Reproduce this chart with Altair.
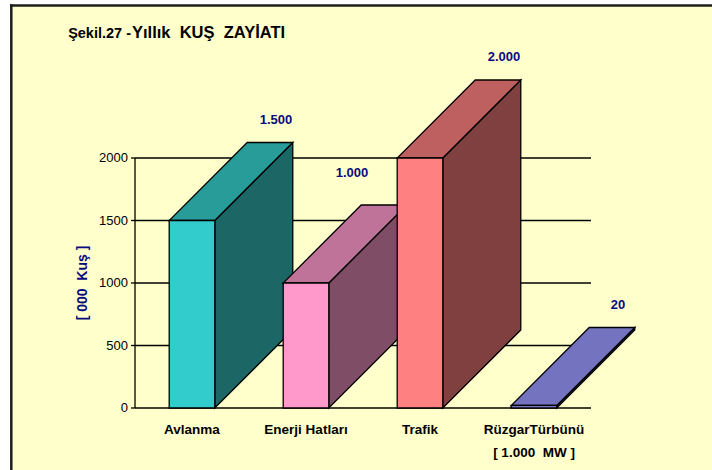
import altair as alt
import pandas as pd

NB = "\u00a0"  # keeps the double spaces of the original texts

# ---- data ----
categories = ["Avlanma", "Enerji Hatları", "Trafik", "RüzgarTürbünü"]
category_labels = ["Avlanma", "Enerji Hatları", "Trafik", f"RüzgarTürbünü\n[ 1.000 {NB}MW ]"]
values = [1500, 1000, 2000, 20]
value_labels = ["1.500", "1.000", "2.000", "20"]
front_colors = ["#33CCCC", "#FF99CC", "#FF8080", "#9999FF"]
top_colors = ["#279C99", "#BF7399", "#BF6060", "#7373BF"]
side_colors = ["#1C6666", "#804D66", "#804040", "#4D4D80"]
y_ticks = [0, 500, 1000, 1500, 2000]
y_tick_labels = ["0", "500", "1000", "1500", "2000"]

HALF = 0.2     # half bar width (category units)
DX = 0.684     # 3D depth along x (category units)
DY = 624       # 3D depth along y (value units)
FONT = "Liberation Sans"

front_rows, side_rows, top_rows, label_rows, cat_rows = [], [], [], [], []
for i, (c, v) in enumerate(zip(categories, values)):
    xl, xr = i + 0.5 - HALF, i + 0.5 + HALF
    front_rows.append({"cat": c, "x": xl, "x2": xr, "y": v, "y2": 0, "fill": front_colors[i]})
    side_rows += [
        {"cat": c, "x": xr, "y": v, "y2": 0, "fill": side_colors[i]},
        {"cat": c, "x": xr + DX, "y": v + DY, "y2": DY, "fill": side_colors[i]},
    ]
    top_rows += [
        {"cat": c, "y": v, "x": xl, "x2": xr, "fill": top_colors[i]},
        {"cat": c, "y": v + DY, "x": xl + DX, "x2": xr + DX, "fill": top_colors[i]},
    ]
    label_rows.append({"cat": c, "x": i + 0.5 + DX, "y": v + DY, "label": value_labels[i]})
    cat_rows.append({"cat": c, "x": i + 0.5, "y": 0, "label": category_labels[i]})

front_df = pd.DataFrame(front_rows)
side_df = pd.DataFrame(side_rows)
top_df = pd.DataFrame(top_rows)
label_df = pd.DataFrame(label_rows)
cat_df = pd.DataFrame(cat_rows)
tick_df = pd.DataFrame({"v": y_ticks, "t": y_tick_labels, "x0": 0, "x1": len(categories)})
axis_df = pd.DataFrame({"y0": [y_ticks[0]], "y1": [y_ticks[-1]], "ym": [(y_ticks[0] + y_ticks[-1]) / 2]})

xs = alt.Scale(domain=[0, 5], nice=False, zero=False)
ys = alt.Scale(domain=[0, 2800], nice=False, zero=False)


def X(f):
    return alt.X(f, type="quantitative", scale=xs, axis=None)


def Y(f):
    return alt.Y(f, type="quantitative", scale=ys, axis=None)


one = pd.DataFrame({"k": [0]})

bg = alt.Chart(one).mark_rect(fill="#FFFFCC").encode(
    x=alt.value(-123), x2=alt.value(640), y=alt.value(-52), y2=alt.value(420)
)
border_top = alt.Chart(one).mark_rule(color="#1e1e1e", strokeWidth=2.5).encode(
    x=alt.value(-125), x2=alt.value(640), y=alt.value(-52.5)
)
border_left = alt.Chart(one).mark_rule(color="#1e1e1e", strokeWidth=2.5).encode(
    x=alt.value(-123.7), y=alt.value(-53.7), y2=alt.value(420)
)

grid = alt.Chart(tick_df).mark_rule(color="black", strokeWidth=1.3).encode(
    x=X("x0"), x2="x1", y=Y("v")
)
ticks = alt.Chart(tick_df).mark_rule(color="black", strokeWidth=1.3).encode(
    x=alt.value(-4), x2=alt.value(0), y=Y("v")
)
tick_text = alt.Chart(tick_df).mark_text(
    align="right", baseline="middle", font=FONT, fontSize=13, color="black", dx=-7
).encode(x=alt.value(0), y=Y("v"), text="t:N")
axis_line = alt.Chart(axis_df).mark_rule(color="black", strokeWidth=1.3).encode(
    x=alt.value(0), y=Y("y0"), y2="y1"
)

sides = alt.Chart(side_df).mark_area(stroke="black", strokeWidth=1.3, opacity=1).encode(
    x=X("x"), y=Y("y"), y2="y2", detail="cat:N", fill=alt.Fill("fill:N", scale=None)
)
tops = alt.Chart(top_df).mark_area(orient="horizontal", stroke="black", strokeWidth=1.3, opacity=1).encode(
    y=Y("y"), x=X("x"), x2="x2",
    detail="cat:N",
    fill=alt.Fill("fill:N", scale=None),
)
fronts = alt.Chart(front_df).mark_rect(stroke="black", strokeWidth=1.3).encode(
    x=X("x"), x2="x2", y=Y("y"), y2="y2", fill=alt.Fill("fill:N", scale=None)
)

lab_main = alt.Chart(label_df).transform_filter(alt.datum.cat != "Enerji Hatları").mark_text(
    font=FONT, fontSize=13, fontWeight="bold", color="#0A0A80", baseline="middle", dx=6, dy=-23
).encode(x=X("x"), y=Y("y"), text="label:N")
lab_en = alt.Chart(label_df).transform_filter(alt.datum.cat == "Enerji Hatları").mark_text(
    font=FONT, fontSize=13, fontWeight="bold", color="#0A0A80", baseline="middle", dx=-32, dy=-32
).encode(x=X("x"), y=Y("y"), text="label:N")

cat_text = alt.Chart(cat_df).mark_text(
    font=FONT, fontSize=13.5, fontWeight="bold", color="black", baseline="top",
    dy=15, lineBreak="\n", lineHeight=23
).encode(x=X("x"), y=Y("y"), text="label:N")

title_a = alt.Chart(one).mark_text(
    font=FONT, fontSize=14.5, fontWeight="bold", color="black", align="right", baseline="alphabetic",
    text="Şekil.27 -"
).encode(x=alt.value(-4), y=alt.value(-20))
title_b = alt.Chart(one).mark_text(
    font=FONT, fontSize=16.5, fontWeight="bold", color="black", align="left", baseline="alphabetic",
    text=f"Yıllık {NB}KUŞ {NB}ZAYİATI"
).encode(x=alt.value(-3), y=alt.value(-20))

y_title = alt.Chart(axis_df).mark_text(
    font=FONT, fontSize=14, fontWeight="bold", color="#0A0A80", angle=270,
    align="center", baseline="middle", text=f"[ 000 {NB}Kuş ]"
).encode(x=alt.value(-52), y=Y("ym"))

chart = alt.layer(
    bg, border_top, border_left, grid, axis_line, ticks, tick_text,
    sides, tops, fronts, lab_main, lab_en, cat_text, title_a, title_b, y_title
).properties(
    width=570, height=350,
    padding={"left": 135, "top": 58, "right": 7, "bottom": 62},
    autosize="none",
    background="white",
).configure_view(strokeWidth=0)

chart.save("out.html", embed_options={"renderer": "svg", "actions": False})
